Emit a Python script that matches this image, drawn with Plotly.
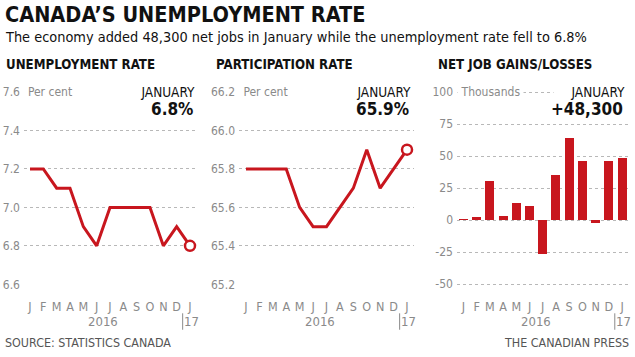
import plotly.graph_objects as go

# ---------------- data ----------------
months = ["J", "F", "M", "A", "M", "J", "J", "A", "S", "O", "N", "D", "J"]
unemployment = [7.2, 7.2, 7.1, 7.1, 6.9, 6.8, 7.0, 7.0, 7.0, 7.0, 6.8, 6.9, 6.8]
participation = [65.8, 65.8, 65.8, 65.8, 65.6, 65.5, 65.5, 65.6, 65.7, 65.9, 65.7, 65.8, 65.9]
job_changes = [0.8, 2.5, 30.5, 3.5, 13.5, 11, -26, 35, 64, 46, -2.5, 46, 48.3]  # thousands

unemp_ticks = [6.6, 6.8, 7.0, 7.2, 7.4, 7.6]
part_ticks = [65.2, 65.4, 65.6, 65.8, 66.0, 66.2]
jobs_ticks = [-50, -25, 0, 25, 50, 75, 100]

W, H = 635, 357
RED = "#c8161e"
GREY = "#8a8a8a"
GRID = "#b8b8b8"
FONT = "Liberation Sans Narrow, DejaVu Sans Condensed, Roboto Condensed, Arial Narrow, sans-serif"


def px(x):
    return x / W


def py(y):
    return 1 - y / H


x_idx = list(range(len(months)))

fig = go.Figure()

fig.add_trace(go.Scatter(x=x_idx, y=unemployment, mode="lines",
                         line=dict(color=RED, width=3), xaxis="x", yaxis="y"))
fig.add_trace(go.Scatter(x=[x_idx[-1]], y=[unemployment[-1]], mode="markers",
                         marker=dict(symbol="circle", size=10, color="white",
                                     line=dict(color=RED, width=2.5)),
                         xaxis="x", yaxis="y"))
fig.add_trace(go.Scatter(x=x_idx, y=participation, mode="lines",
                         line=dict(color=RED, width=3), xaxis="x2", yaxis="y2"))
fig.add_trace(go.Scatter(x=[x_idx[-1]], y=[participation[-1]], mode="markers",
                         marker=dict(symbol="circle", size=10, color="white",
                                     line=dict(color=RED, width=2.5)),
                         xaxis="x2", yaxis="y2"))
fig.add_trace(go.Bar(x=x_idx, y=job_changes, marker=dict(color=RED, line=dict(width=0)),
                     width=0.68, xaxis="x3", yaxis="y3"))

ydom = [py(289), py(88)]


def xaxis(dom, rng, anchor):
    return dict(domain=[px(dom[0]), px(dom[1])], range=rng, tickvals=x_idx, ticktext=months,
                showgrid=False, zeroline=False, showline=False, ticks="", anchor=anchor,
                tickfont=dict(family=FONT, size=12.5, color=GREY), ticklabelstandoff=12,
                fixedrange=True)


def yaxis(ticks, labels, rng, anchor):
    return dict(domain=ydom, range=rng, tickvals=ticks, ticktext=labels,
                showgrid=True, gridcolor=GRID, griddash="dot", gridwidth=1,
                zeroline=False, showline=False, ticks="", anchor=anchor,
                tickfont=dict(family=FONT, size=12, color=GREY), ticklabelstandoff=3,
                fixedrange=True)


fig.update_layout(
    width=W, height=H, margin=dict(l=0, r=0, t=0, b=0),
    paper_bgcolor="white", plot_bgcolor="white", showlegend=False,
    bargap=0,
    xaxis=xaxis((24, 198), [-0.45, 12.6], "y"),
    yaxis=yaxis(unemp_ticks, [f"{v:.1f}" for v in unemp_ticks], [6.595, 7.605], "x"),
    xaxis2=xaxis((239, 414), [-0.52, 12.52], "y2"),
    yaxis2=yaxis(part_ticks, [f"{v:.1f}" for v in part_ticks], [65.195, 66.205], "x2"),
    xaxis3=xaxis((457, 628), [-0.49, 12.45], "y3"),
    yaxis3=yaxis(jobs_ticks, [str(v) for v in jobs_ticks], [-50.8, 100.8], "x3"),
)

ann = []


def text(x, y, s, size, color="#111", bold=False, xanchor="left", **kw):
    ann.append(dict(x=x, y=y, xref="paper", yref="paper", text=f"<b>{s}</b>" if bold else s,
                    showarrow=False, xanchor=xanchor, yanchor="middle",
                    font=dict(family=FONT, size=size, color=color), **kw))


text(px(3), py(9), "CANADA’S UNEMPLOYMENT RATE", 21.5, bold=True)
text(px(3), py(32), "The economy added 48,300 net jobs in January while the unemployment rate fell to 6.8%", 14.4)

panels = [
    ("UNEMPLOYMENT RATE", 4, "Per cent", (24, 72), (126, 199), f"{unemployment[-1]:.1f}%"),
    ("PARTICIPATION RATE", 214, "Per cent", (239, 288), (343, 415), f"{participation[-1]:.1f}%"),
    ("NET JOB GAINS/LOSSES", 436, "Thousands", (457, 520), (555, 629),
     f"+{int(round(job_changes[-1] * 1000)):,}"),
]
for title, tx, unit, ubox, jbox, last in panels:
    text(px(tx), py(61), title, 13.2, bold=True)
    # unit label (white box hides the top gridline under it)
    ann.append(dict(x=px(ubox[0]), y=py(89), xref="paper", yref="paper", text=unit,
                    showarrow=False, xanchor="left", yanchor="middle", align="center",
                    width=ubox[1] - ubox[0], bgcolor="white", borderpad=1,
                    font=dict(family=FONT, size=12, color=GREY)))
    ann.append(dict(x=px(jbox[1]), y=py(89), xref="paper", yref="paper", text="JANUARY",
                    showarrow=False, xanchor="right", yanchor="middle", align="right",
                    width=jbox[1] - jbox[0] - 6, bgcolor="white", borderpad=3,
                    font=dict(family=FONT, size=13.5, color="#111")))
    text(px(jbox[1] - 4), py(107), last, 17, bold=True, xanchor="right")

for xa in ["x", "x2", "x3"]:
    ann.append(dict(x=5.5, y=py(326), xref=xa, yref="paper", text="2016", showarrow=False,
                    xanchor="center", yanchor="middle",
                    font=dict(family=FONT, size=13, color=GREY)))
    ann.append(dict(x=12.1, y=py(326), xref=xa, yref="paper", text="17", showarrow=False,
                    xanchor="center", yanchor="middle",
                    font=dict(family=FONT, size=13, color=GREY)))

text(px(3), py(348), "SOURCE: STATISTICS CANADA", 12.4, color="#555")
text(px(631), py(348), "THE CANADIAN PRESS", 12.4, color="#555", xanchor="right")

fig.update_layout(annotations=ann)

shapes = []
for xa in ["x", "x2", "x3"]:
    shapes.append(dict(type="line", xref=xa, yref="paper", x0=11.45, x1=11.45,
                       y0=py(335), y1=py(318), line=dict(color=GREY, width=1)))
fig.update_layout(shapes=shapes)

fig.write_html("out.html",
               config={"displayModeBar": False, "staticPlot": True},
               post_script="document.body.style.margin='0';document.body.style.padding='0';")
